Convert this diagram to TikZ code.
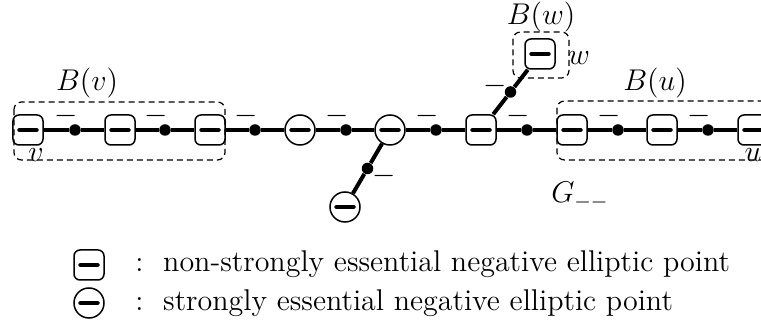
\documentclass[tikz,border=0pt]{standalone}
\usetikzlibrary{calc}
\begin{document}
\begin{tikzpicture}[x=0.4pt,y=-0.4pt,
  every node/.style={font=\fontsize{12}{14}\selectfont},
  bar/.style={path picture={\draw[line width=1.8pt,line cap=round]
     ([xshift=-3.4pt]path picture bounding box.center) -- ([xshift=3.4pt]path picture bounding box.center);}},
  sq/.style={draw,line width=0.6pt,rounded corners=2.4pt,minimum size=12pt,inner sep=0pt,bar},
  cir/.style={draw,line width=0.6pt,circle,minimum size=12pt,inner sep=0pt,bar},
  dotn/.style={circle,fill,minimum size=4.6pt,inner sep=0pt},
  edge/.style={line width=1.6pt},
  dbox/.style={dashed,dash pattern=on 2.4pt off 1.6pt,line width=0.5pt,rounded corners=3pt},
  lab/.style={inner sep=0pt}]
\useasboundingbox (0,0) rectangle (761,332);
\clip (0,0) rectangle (761,332);
% dashed boxes
\draw[dbox] (14,102) rectangle (225,160);
\draw[dbox] (513,32) rectangle (569,78);
\draw[dbox] (557,101) rectangle (820,160);
% main line nodes
\node[sq] (S1) at (28,130) {};
\node[sq] (S2) at (120,130) {};
\node[sq] (S3) at (210,130) {};
\node[cir] (C1) at (300,130) {};
\node[cir] (C2) at (390,130) {};
\node[sq] (S4) at (481,130) {};
\node[sq] (S5) at (572,130) {};
\node[sq] (S6) at (662,130) {};
\node[sq] (S7) at (753,130) {};
\node[cir] (C3) at (345,207) {};
\node[sq] (S8) at (540,54) {};
\foreach \n/\x in {d1/75,d2/165,d3/255,d4/346,d5/436,d6/527,d7/618,d8/708}{
  \node[dotn] (\n) at (\x,130) {};
  \node[lab] at (\x-9,116) {$-$};
}
\node[dotn] (d9) at ($(C2)!0.5!(C3)$) {};
\node[dotn] (d10) at ($(S4)!0.5!(S8)$) {};
\node[lab] at (384,176) {$-$};
\node[lab] at (495,86) {$-$};
\draw[edge] (S1) -- (d1) -- (S2) -- (d2) -- (S3) -- (d3) -- (C1) -- (d4) -- (C2) -- (d5) -- (S4) -- (d6) -- (S5) -- (d7) -- (S6) -- (d8) -- (S7);
\draw[edge] (C2) -- (d9) -- (C3);
\draw[edge] (S4) -- (d10) -- (S8);
% labels
\node[lab] at (87,83) {$B(v)$};
\node[lab] at (541,17) {$B(w)$};
\node[lab] at (655,83) {$B(u)$};
\node[lab] at (36,155) {$v$};
\node[lab] at (579,58) {$w$};
\node[lab] at (753,155) {$u$};
\node[lab] at (580,196) {$G_{--}$};
% legend
\node[sq] (L1) at (89,265) {};
\node[cir] (L2) at (89,303) {};
\node[lab,anchor=base west] (T1) at (135,272) {:\ \ non-strongly essential negative elliptic point};
\node[lab,anchor=base west] (T2) at (135,311) {:\ \ strongly essential negative elliptic point};
\end{tikzpicture}
\end{document}
